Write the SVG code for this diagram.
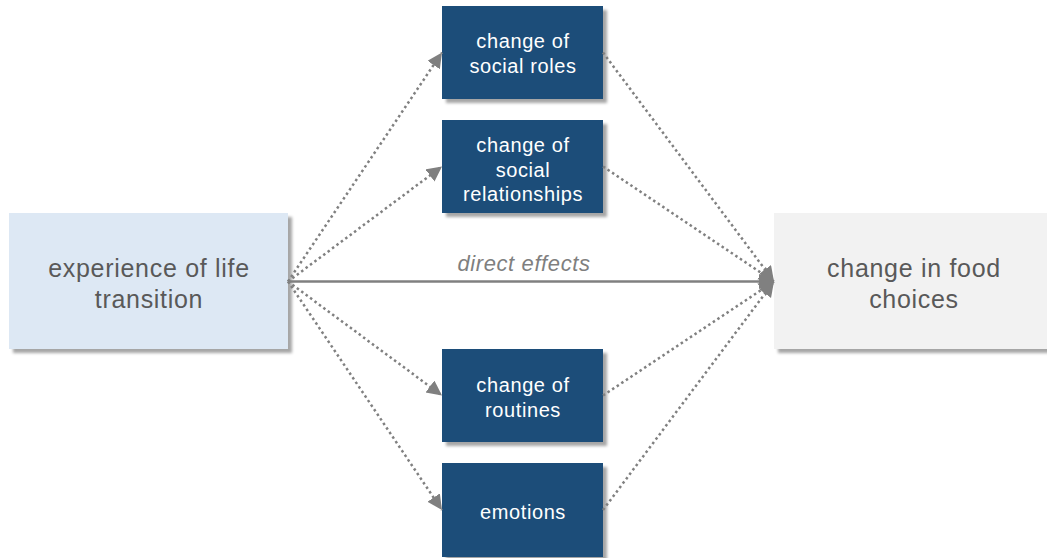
<svg xmlns="http://www.w3.org/2000/svg" width="1047" height="558" viewBox="0 0 1047 558">
  <defs>
    <filter id="shadow" x="-10%" y="-10%" width="130%" height="130%">
      <feDropShadow dx="4" dy="4" stdDeviation="1.5" flood-color="#000" flood-opacity="0.35"/>
    </filter>
    <marker id="arrow" markerUnits="userSpaceOnUse" markerWidth="16" markerHeight="16" refX="15" refY="7.5" orient="auto">
      <path d="M0,0 L15,7.5 L0,15 z" fill="#808080"/>
    </marker>
    <style>
      .main { font-family: "Liberation Sans", Arial, sans-serif; font-size: 25px; letter-spacing: 0.7px; fill: #595959; text-anchor: middle; }
      .small { font-family: "Liberation Sans", Arial, sans-serif; font-size: 20px; letter-spacing: 0.6px; fill: #ffffff; text-anchor: middle; }
      .dark { fill: #1f4e79; filter: url(#shadow); }
      .dot { stroke: #808080; stroke-width: 2.5; stroke-dasharray: 2.5 3; fill: none; marker-end: url(#arrow); }
      .solid { stroke: #808080; stroke-width: 2.5; fill: none; marker-end: url(#arrow); }
      .label { font-family: "Liberation Sans", Arial, sans-serif; font-size: 22px; letter-spacing: 0.6px; font-style: italic; fill: #7f7f7f; text-anchor: middle; }
    </style>
  </defs>

  <g id="life-transition">
    <rect x="9" y="213" width="279" height="136" fill="#dde8f4" filter="url(#shadow)"/>
    <text class="main" x="149" y="277">experience of life</text>
    <text class="main" x="149" y="308">transition</text>
  </g>

  <g id="food-choices">
    <rect x="774" y="213" width="280" height="136" fill="#f2f2f2" filter="url(#shadow)"/>
    <text class="main" x="914" y="277">change in food</text>
    <text class="main" x="914" y="308">choices</text>
  </g>

  <g id="social-roles">
    <rect class="dark" x="442" y="6" width="161" height="93"/>
    <text class="small" x="523" y="48">change of</text>
    <text class="small" x="523" y="73">social roles</text>
  </g>

  <g id="social-relationships">
    <rect class="dark" x="442" y="120" width="161" height="93"/>
    <text class="small" x="523" y="152">change of</text>
    <text class="small" x="523" y="177">social</text>
    <text class="small" x="523" y="201">relationships</text>
  </g>

  <g id="routines">
    <rect class="dark" x="442" y="349" width="161" height="93"/>
    <text class="small" x="523" y="392">change of</text>
    <text class="small" x="523" y="417">routines</text>
  </g>

  <g id="emotions">
    <rect class="dark" x="442" y="463" width="161" height="94"/>
    <text class="small" x="523" y="519">emotions</text>
  </g>

  <g id="connectors">
    <line class="dot" x1="288" y1="281.5" x2="442" y2="52.5"/>
    <line class="dot" x1="288" y1="281.5" x2="442" y2="166.5"/>
    <line class="dot" x1="288" y1="281.5" x2="442" y2="395.5"/>
    <line class="dot" x1="288" y1="281.5" x2="442" y2="510"/>
    <line class="dot" x1="603" y1="52.5" x2="774" y2="281.5"/>
    <line class="dot" x1="603" y1="166.5" x2="774" y2="281.5"/>
    <line class="dot" x1="603" y1="395.5" x2="774" y2="281.5"/>
    <line class="dot" x1="603" y1="510" x2="774" y2="281.5"/>
    <line class="solid" x1="288" y1="281.5" x2="774" y2="281.5"/>
    <text class="label" x="524" y="271">direct effects</text>
  </g>
</svg>
